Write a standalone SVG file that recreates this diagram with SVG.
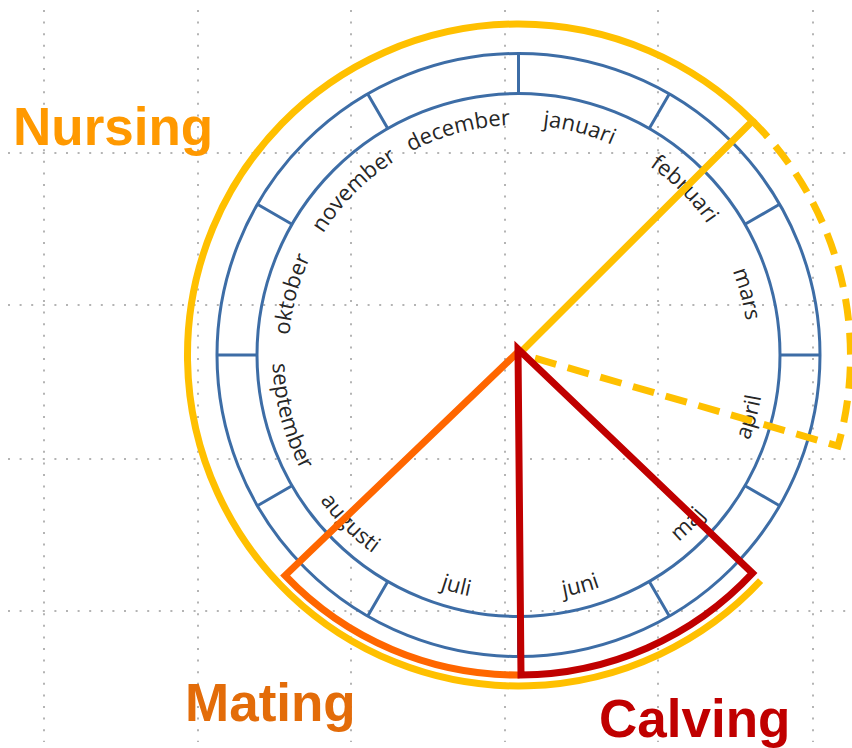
<svg xmlns="http://www.w3.org/2000/svg" xmlns:xlink="http://www.w3.org/1999/xlink" width="852" height="748" viewBox="0 0 852 748">
<style>
.grid{stroke:#b4b4b4;stroke-width:2;stroke-dasharray:2 9.6;fill:none}
.blue{stroke:#3d6da6;stroke-width:3;fill:none}
.month{font-family:"Open Sans","Noto Sans",sans-serif;font-size:22px;fill:#262626}
.label{font-family:"Liberation Sans",Arial,sans-serif;font-size:53px;font-weight:bold}
.phase{fill:none;stroke-width:7;stroke-linejoin:miter}
</style>
<defs>
<path id="cw" d="M518.5,585 A230,230 0 1 1 518.5,125 A230,230 0 1 1 518.5,585"/>
<path id="ccw" d="M518.5,109 A246,246 0 1 0 518.5,601 A246,246 0 1 0 518.5,109"/>
</defs>
<rect width="852" height="748" fill="#ffffff"/>
<g id="grid" class="grid">
<path d="M44,10V742M198,10V742M351,10V742M505,10V742M658,10V742M813,10V742"/>
<path d="M8,153H852M8,305H852M8,459H852M8,611H852"/>
</g>
<g id="wheel">
<circle class="blue" cx="518.5" cy="355" r="301.5"/>
<circle class="blue" cx="518.5" cy="355" r="261.5"/>
<g class="blue">
<path d="M518.5,53.5V93.5 M669.25,93.9L649.25,128.5 M779.6,204.25L745,224.25 M820,355H780 M779.6,505.75L745,485.75 M669.25,616.1L649.25,581.5 M518.5,656.5V616.5 M367.75,616.1L387.75,581.5 M257.4,505.75L292,485.75 M217,355H257 M257.4,204.25L292,224.25 M367.75,93.9L387.75,128.5"/>
</g>
</g>
<g id="months" class="month" text-anchor="middle">
<text><textPath xlink:href="#cw" startOffset="54.17%">januari</textPath></text>
<text><textPath xlink:href="#cw" startOffset="62.5%">februari</textPath></text>
<text><textPath xlink:href="#cw" startOffset="70.83%">mars</textPath></text>
<text><textPath xlink:href="#ccw" startOffset="70.83%">april</textPath></text>
<text><textPath xlink:href="#ccw" startOffset="62.5%">maj</textPath></text>
<text><textPath xlink:href="#ccw" startOffset="54.17%">juni</textPath></text>
<text><textPath xlink:href="#ccw" startOffset="45.83%">juli</textPath></text>
<text><textPath xlink:href="#ccw" startOffset="37.5%">augusti</textPath></text>
<text><textPath xlink:href="#ccw" startOffset="29.17%">september</textPath></text>
<text><textPath xlink:href="#cw" startOffset="29.17%">oktober</textPath></text>
<text><textPath xlink:href="#cw" startOffset="37.5%">november</textPath></text>
<text><textPath xlink:href="#cw" startOffset="45.83%">december</textPath></text>
</g>
<g id="connectors">
<g id="nursing-shape">
<path class="phase" stroke="#ffc000" d="M522,351 L752.5,120.9 A331,331 0 1 0 760.6,580.7"/>
<path class="phase" stroke="#ffc000" stroke-width="6" stroke-dasharray="22 12" d="M752.5,120.9 A331,331 0 0 1 838,446 L524,355"/>
</g>
<g id="mating-shape">
<path class="phase" stroke="#ff6600" d="M519,351 L285.1,575.5 A321,321 0 0 0 519.5,675"/>
</g>
<g id="calving-shape">
<path class="phase" stroke="#c00000" d="M518,349 L521,675 A320,320 0 0 0 752.5,573.2 Z"/>
</g>
</g>
<g id="label-nursing"><text class="label" x="13" y="145" fill="#ff9900">Nursing</text></g>
<g id="label-mating"><text class="label" x="185" y="721" fill="#e36c09">Mating</text></g>
<g id="label-calving"><text class="label" x="599" y="737" fill="#c00000">Calving</text></g>
</svg>
